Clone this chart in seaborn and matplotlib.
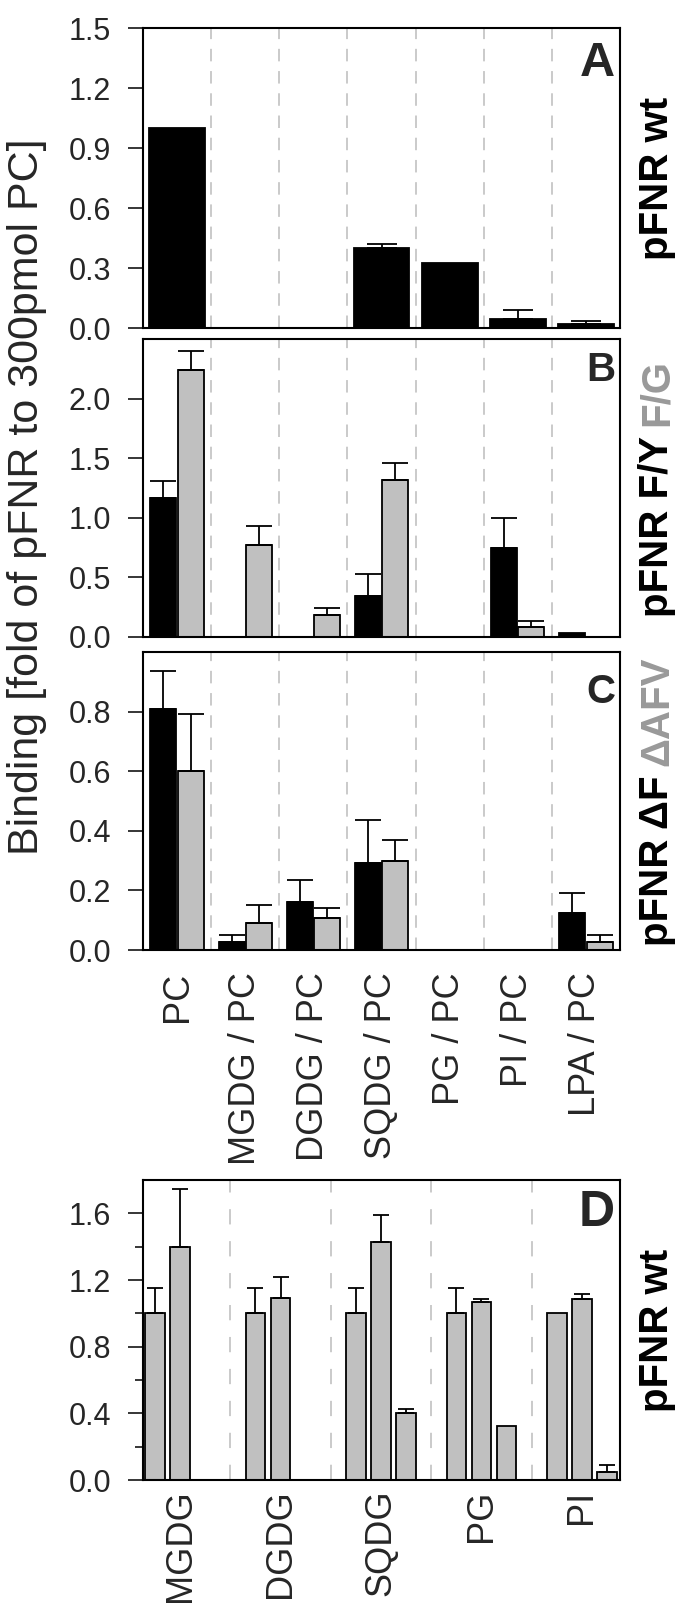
import numpy as np
import pandas as pd
import matplotlib
matplotlib.use("Agg")
import matplotlib.pyplot as plt
import seaborn as sns

# categories
lipids_pc = ["PC", "MGDG / PC", "DGDG / PC", "SQDG / PC", "PG / PC", "PI / PC", "LPA / PC"]
lipids_d = ["MGDG", "DGDG", "SQDG", "PG", "PI"]

# panel A - pFNR wt
a_val = [1.0, 0, 0, 0.40, 0.325, 0.047, 0.02]
a_err = [0, 0, 0, 0.02, 0, 0.045, 0.017]

# panel B - F/Y (black) and F/G (grey)
b_fy = [1.17, 0, 0, 0.347, 0, 0.75, 0.036]
b_fy_err = [0.14, 0, 0, 0.178, 0, 0.25, 0]
b_fg = [2.24, 0.77, 0.187, 1.318, 0, 0.081, 0]
b_fg_err = [0.16, 0.165, 0.053, 0.142, 0, 0.05, 0]

# panel C - dF (black) and dAFV (grey)
c_df = [0.81, 0.028, 0.16, 0.292, 0, 0, 0.123]
c_df_err = [0.127, 0.022, 0.076, 0.144, 0, 0, 0.067]
c_afv = [0.60, 0.092, 0.107, 0.297, 0, 0, 0.028]
c_afv_err = [0.192, 0.058, 0.033, 0.071, 0, 0, 0.022]

# panel D - pFNR wt, three bars per lipid
d_1 = [1.0, 1.0, 1.0, 1.0, 1.0]
d_1_err = [0.152, 0.152, 0.152, 0.152, 0]
d_2 = [1.40, 1.09, 1.427, 1.067, 1.085]
d_2_err = [0.345, 0.128, 0.163, 0.02, 0.033]
d_3 = [0, 0, 0.402, 0.326, 0.046]
d_3_err = [0, 0, 0.022, 0, 0.046]

BLACK = "#000000"
GREY = "#c0c0c0"
TXT_GREY = "#999999"

sns.set_style("ticks")
plt.rcParams['font.family'] = ['Liberation Sans', 'DejaVu Sans']
plt.rcParams['lines.scale_dashes'] = False


def long_df(cats, series):
    rows = []
    for name, vals in series:
        for c, v in zip(cats, vals):
            rows.append({"cat": c, "grp": name, "val": v})
    return pd.DataFrame(rows)


def add_err(ax, errs, capsize):
    # one container per hue level, bars in category order
    for cont, err in zip(ax.containers, errs):
        for p, e in zip(cont.patches, err):
            if e <= 0:
                continue
            xc = p.get_x() + p.get_width() / 2
            ax.errorbar(xc, p.get_height(), yerr=[[0], [e]], fmt='none',
                        ecolor='black', elinewidth=1.3, capsize=capsize,
                        capthick=1.3, zorder=5)


def style_ax(ax, n_sep, xlim, dashes):
    for s in ax.spines.values():
        s.set_visible(True)
        s.set_linewidth(1.5)
        s.set_color('black')
    for k in range(n_sep):
        ax.axvline(k + 0.5, color='#c6c6c6', lw=1.3, dashes=dashes, zorder=0)
    ax.set_xlim(*xlim)
    ax.tick_params(axis='y', direction='out', length=11, width=1.3,
                   labelsize=22, pad=12)
    ax.tick_params(axis='x', length=0)
    ax.set_xlabel("")
    ax.set_ylabel("")


def side_label(fig, ax, parts, x=1.078, size=29):
    texts = []
    t1 = ax.text(x, 0.5, parts[0][0], transform=ax.transAxes, rotation=90,
                 ha='center', va='bottom', fontsize=size, fontweight='bold',
                 color=parts[0][1])
    texts.append(t1)
    prev = t1
    for s, c in parts[1:]:
        t = ax.annotate(s, xy=(0.5, 1), xycoords=prev, xytext=(0, 7),
                        textcoords='offset points', rotation=90, ha='center',
                        va='bottom', fontsize=size, fontweight='bold', color=c)
        texts.append(t)
        prev = t
    fig.canvas.draw()
    r = fig.canvas.get_renderer()
    y0 = texts[0].get_window_extent(r).y0
    y1 = texts[-1].get_window_extent(r).y1
    shift = (y1 - y0) / 2 / ax.bbox.height
    t1.set_position((x, 0.5 - shift))


fig = plt.figure(figsize=(6.85, 16.13), dpi=100)
left, width = 143 / 685, 477 / 685
H = 1613
ax_a = fig.add_axes([left, 1 - 328 / H, width, 300 / H])
ax_b = fig.add_axes([left, 1 - 637 / H, width, 298 / H])
ax_c = fig.add_axes([left, 1 - 950 / H, width, 298 / H])
ax_d = fig.add_axes([left, 1 - 1480 / H, width, 300 / H])

# A
df_a = long_df(lipids_pc, [("wt", a_val)])
sns.barplot(data=df_a, x="cat", y="val", order=lipids_pc, color=BLACK,
            edgecolor='black', linewidth=1.3, width=0.82, errorbar=None,
            saturation=1, ax=ax_a)
add_err(ax_a, [a_err], 11)
style_ax(ax_a, 6, (-0.5, 6.5), (9, 7))
ax_a.set_ylim(0, 1.5)
ax_a.set_yticks([0, 0.3, 0.6, 0.9, 1.2, 1.5])
ax_a.set_yticklabels(["0.0", "0.3", "0.6", "0.9", "1.2", "1.5"])
ax_a.set_xticklabels([])

# B
df_b = long_df(lipids_pc, [("F/Y", b_fy), ("F/G", b_fg)])
sns.barplot(data=df_b, x="cat", y="val", hue="grp", order=lipids_pc,
            hue_order=["F/Y", "F/G"], palette=[BLACK, GREY], edgecolor='black',
            linewidth=1.3, width=0.8, gap=0.05, errorbar=None, saturation=1,
            legend=False, ax=ax_b)
add_err(ax_b, [b_fy_err, b_fg_err], 9.5)
style_ax(ax_b, 6, (-0.5, 6.5), (9, 7))
ax_b.set_ylim(0, 2.5)
ax_b.set_yticks([0, 0.5, 1.0, 1.5, 2.0])
ax_b.set_yticklabels(["0.0", "0.5", "1.0", "1.5", "2.0"])
ax_b.set_xticklabels([])

# C
df_c = long_df(lipids_pc, [("dF", c_df), ("dAFV", c_afv)])
sns.barplot(data=df_c, x="cat", y="val", hue="grp", order=lipids_pc,
            hue_order=["dF", "dAFV"], palette=[BLACK, GREY], edgecolor='black',
            linewidth=1.3, width=0.8, gap=0.05, errorbar=None, saturation=1,
            legend=False, ax=ax_c)
add_err(ax_c, [c_df_err, c_afv_err], 9.5)
style_ax(ax_c, 6, (-0.5, 6.5), (9, 7))
ax_c.set_ylim(0, 1.0)
ax_c.set_yticks([0, 0.2, 0.4, 0.6, 0.8])
ax_c.set_yticklabels(["0.0", "0.2", "0.4", "0.6", "0.8"])
ax_c.set_xticks(range(len(lipids_pc)))
ax_c.set_xticklabels(lipids_pc, rotation=90, fontsize=26, va='top', ha='center')
ax_c.tick_params(axis='x', pad=16)

# D
df_d = long_df(lipids_d, [("1", d_1), ("2", d_2), ("3", d_3)])
sns.barplot(data=df_d, x="cat", y="val", hue="grp", order=lipids_d,
            hue_order=["1", "2", "3"], palette=[GREY, GREY, GREY],
            edgecolor='black', linewidth=1.3, width=0.75, gap=0.22,
            errorbar=None, saturation=1, legend=False, ax=ax_d)
add_err(ax_d, [d_1_err, d_2_err, d_3_err], 6)
style_ax(ax_d, 4, (-0.37, 4.38), (11, 12))
ax_d.set_ylim(0, 1.8)
ax_d.set_yticks([0, 0.4, 0.8, 1.2, 1.6])
ax_d.set_yticklabels(["0.0", "0.4", "0.8", "1.2", "1.6"])
ax_d.set_yticks([0.2, 0.6, 1.0, 1.4], minor=True)
ax_d.tick_params(axis='y', which='minor', direction='out', length=6, width=1.3)
ax_d.set_xticks(range(len(lipids_d)))
ax_d.set_xticklabels(lipids_d, rotation=90, fontsize=26, va='top', ha='center')
ax_d.tick_params(axis='x', pad=7)

# panel letters
for ax, letter, size, ytop in [(ax_a, "A", 35, 0.955), (ax_b, "B", 29, 0.96),
                               (ax_c, "C", 29, 0.93), (ax_d, "D", 36, 0.965)]:
    ax.text(0.99, ytop, letter, transform=ax.transAxes, ha='right', va='top',
            fontsize=size, fontweight='bold')

# common y label
fig.text(27 / 685, 1 - 497 / H, "Binding [fold of pFNR to 300pmol PC]",
         rotation=90, ha='center', va='center', fontsize=31)

side_label(fig, ax_a, [("pFNR wt", BLACK)])
side_label(fig, ax_b, [("pFNR F/Y", BLACK), ("F/G", TXT_GREY)])
side_label(fig, ax_c, [("pFNR \u0394F", BLACK), ("\u0394AFV", TXT_GREY)])
side_label(fig, ax_d, [("pFNR wt", BLACK)])

fig.savefig("out.png", dpi=100)
